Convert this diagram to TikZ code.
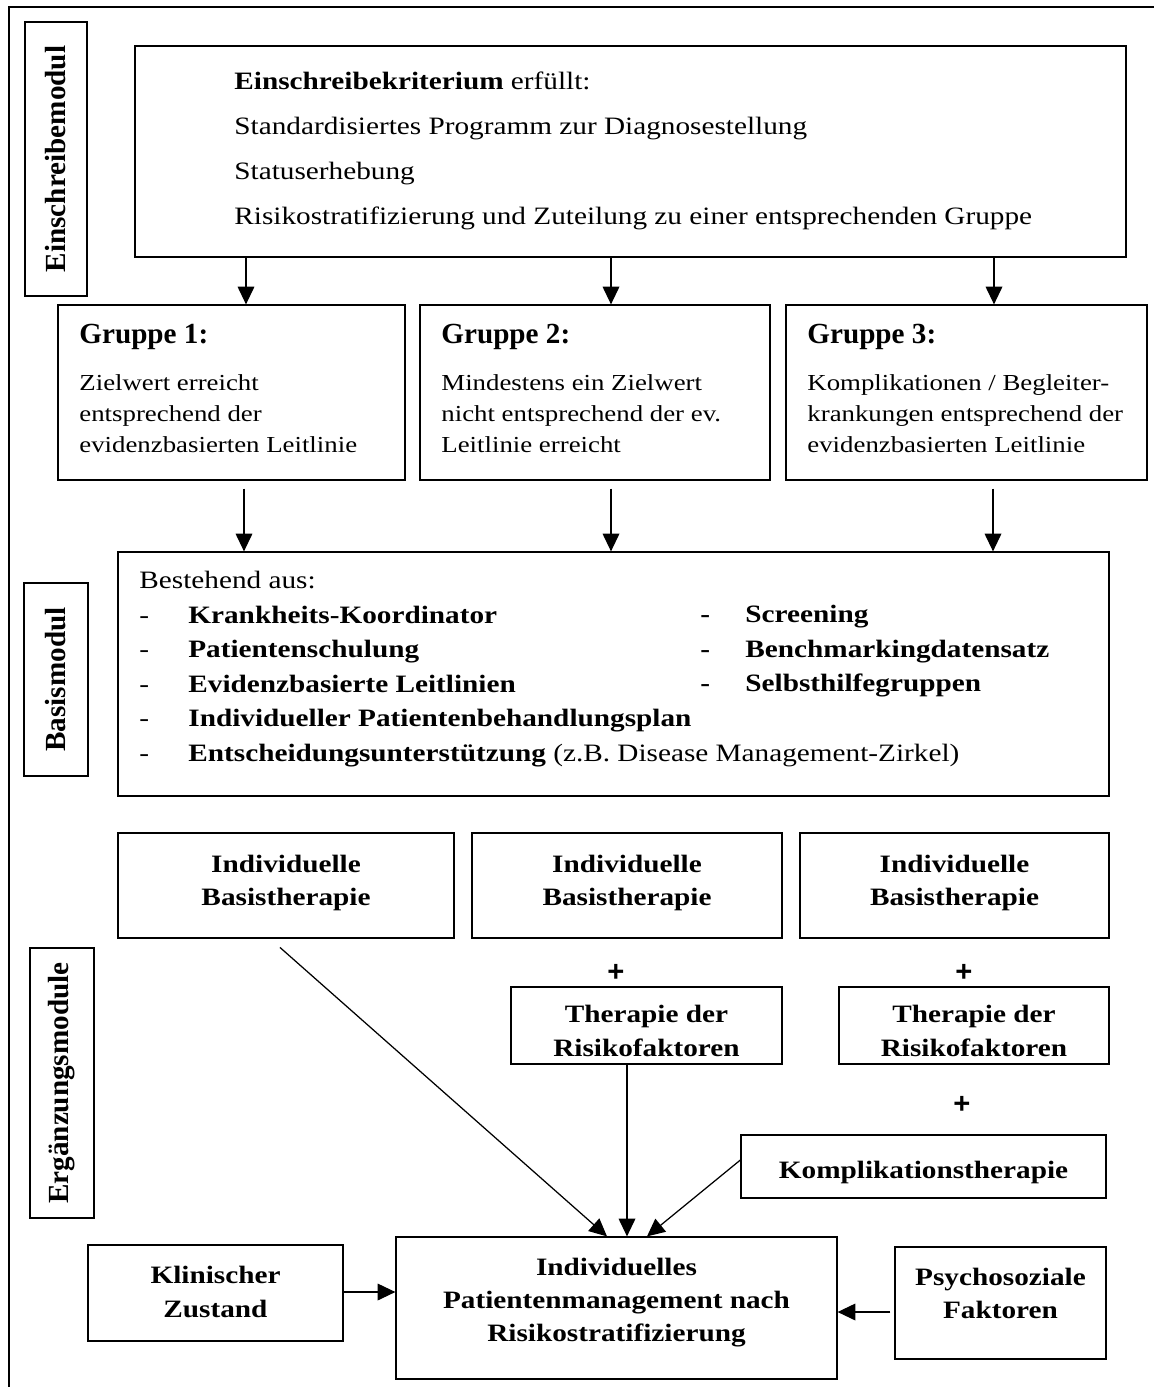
\documentclass[tikz,border=0pt]{standalone}
\usepackage{fontspec}
\setmainfont{Liberation Serif}[FakeStretch=1.17]
\newfontfamily\plainserif{Liberation Serif}
\newfontfamily\plusfont{Liberation Sans}
\usetikzlibrary{fit,arrows.meta}
\tikzset{
  box/.style={draw, line width=0.6pt, inner sep=0pt},
  arr/.style={-{Triangle[width=8pt,length=8.5pt]}, line width=0.6pt},
  sidelab/.style={font=\plainserif\bfseries\fontsize{14}{16}\selectfont, rotate=90, inner sep=0pt},
  bodytxt/.style={align=left, anchor=north west, inner sep=0pt},
  ctext/.style={align=center, anchor=north, inner sep=0pt, font=\bfseries\fontsize{12}{15.84}\selectfont},
  plussign/.style={font=\plusfont\bfseries\fontsize{14}{16}\selectfont, inner sep=0pt},
  ghead/.style={font=\plainserif\bfseries\fontsize{14}{16}\selectfont, anchor=base west, inner sep=0pt},
}
\begin{document}
\begin{tikzpicture}[x=0.48pt, y=-0.48pt]
\useasboundingbox (0,0) rectangle (1154,1387);
% outer frame (left and top sides visible)
\draw[line width=1.1pt] (9,1387) -- (9,7) -- (1154,7);

% side labels
\node[box, fit={(25,22) (87,296)}] (l1) {};
\node[sidelab] (l1t) at (l1.center) {Einschreibemodul};
\node[box, fit={(24,583) (88,776)}] (l2) {};
\node[sidelab] (l2t) at (l2.center) {Basismodul};
\node[box, fit={(30,948) (94,1218)}] (l3) {};
\node[sidelab] (l3t) at (l3.center) {Ergänzungsmodule};

% top box
\node[box, fit={(135,46) (1126,257)}] (top) {};
\node[bodytxt, font=\fontsize{12}{21.6}\selectfont] (topt) at (234,71)
  {\textbf{Einschreibekriterium} erfüllt:\\Standardisiertes Programm zur Diagnosestellung\\Statuserhebung\\Risikostratifizierung und Zuteilung zu einer entsprechenden Gruppe};

% groups
\node[box, fit={(58,305) (405,480)}] (g1) {};
\node[ghead] (g1h) at (79,343) {Gruppe 1:};
\node[bodytxt, font=\fontsize{11}{14.9}\selectfont] (g1t) at (79,374)
  {Zielwert erreicht\\entsprechend der\\evidenzbasierten Leitlinie};
\node[box, fit={(420,305) (770,480)}] (g2) {};
\node[ghead] (g2h) at (441,343) {Gruppe 2:};
\node[bodytxt, font=\fontsize{11}{14.9}\selectfont] (g2t) at (441,374)
  {Mindestens ein Zielwert\\nicht entsprechend der ev.\\Leitlinie erreicht};
\node[box, fit={(786,305) (1147,480)}] (g3) {};
\node[ghead] (g3h) at (807,343) {Gruppe 3:};
\node[bodytxt, font=\fontsize{11}{14.9}\selectfont] (g3t) at (807,374)
  {Komplikationen / Begleiter-\\krankungen entsprechend der\\evidenzbasierten Leitlinie};

% Basismodul
\node[box, fit={(118,552) (1109,796)}] (basis) {};
\node[bodytxt, font=\fontsize{12}{16.56}\selectfont] (bl) at (139,571)
  {Bestehend aus:\\
   \makebox[23.5pt][l]{-}\textbf{Krankheits-Koordinator}\\
   \makebox[23.5pt][l]{-}\textbf{Patientenschulung}\\
   \makebox[23.5pt][l]{-}\textbf{Evidenzbasierte Leitlinien}\\
   \makebox[23.5pt][l]{-}\textbf{Individueller Patientenbehandlungsplan}\\
   \makebox[23.5pt][l]{-}\textbf{Entscheidungsunterstützung} (z.B. Disease Management-Zirkel)};
\node[bodytxt, font=\bfseries\fontsize{12}{16.56}\selectfont] (br) at (700,605)
  {\makebox[21.6pt][l]{-}Screening\\
   \makebox[21.6pt][l]{-}Benchmarkingdatensatz\\
   \makebox[21.6pt][l]{-}Selbsthilfegruppen};

% Ergaenzungsmodule
\node[box, fit={(118,833) (454,938)}] (ib1) {};
\node[ctext] (ib1t) at (286,855) {Individuelle\\Basistherapie};
\node[box, fit={(472,833) (782,938)}] (ib2) {};
\node[ctext] (ib2t) at (627,855) {Individuelle\\Basistherapie};
\node[box, fit={(800,833) (1109,938)}] (ib3) {};
\node[ctext] (ib3t) at (954.5,855) {Individuelle\\Basistherapie};

\node[plussign] (p1) at (616,973) {+};
\node[plussign] (p2) at (964,973) {+};

\node[box, fit={(511,987) (782,1064)}] (tr2) {};
\node[ctext, font=\bfseries\fontsize{12}{16.3}\selectfont] (tr2t) at (646.5,1005) {Therapie der\\Risikofaktoren};
\node[box, fit={(839,987) (1109,1064)}] (tr3) {};
\node[ctext, font=\bfseries\fontsize{12}{16.3}\selectfont] (tr3t) at (974,1005) {Therapie der\\Risikofaktoren};

\node[plussign] (p3) at (962,1105) {+};

\node[box, fit={(741,1135) (1106,1198)}] (komp) {};
\node[anchor=base, inner sep=0pt, font=\bfseries\fontsize{12}{15.84}\selectfont] (kompt) at (923.5,1178) {Komplikationstherapie};

\node[box, fit={(396,1237) (837,1379)}] (target) {};
\node[ctext] (targett) at (616.5,1258) {Individuelles\\Patientenmanagement nach\\Risikostratifizierung};

\node[box, fit={(88,1245) (343,1341)}] (klin) {};
\node[ctext, font=\bfseries\fontsize{12}{16.3}\selectfont] (klint) at (215.5,1266) {Klinischer\\Zustand};

\node[box, fit={(895,1247) (1106,1359)}] (psy) {};
\node[ctext] (psyt) at (1000.5,1268) {Psychosoziale\\Faktoren};

% arrow positions
\coordinate (x1) at (246,0);
\coordinate (x2) at (611,0);
\coordinate (x3) at (994,0);
\coordinate (y1) at (244,0);
\coordinate (y2) at (611,0);
\coordinate (y3) at (993,0);
\coordinate (d1) at (270,0);
\coordinate (d2) at (607,0);
\coordinate (d3) at (627,0);
\coordinate (d4) at (647,0);
\coordinate (k1) at (0,1160);
\coordinate (k2) at (0,1292);
\coordinate (k3) at (0,1312);

\draw[arr] (top.south -| x1) -- (g1.north -| x1);
\draw[arr] (top.south -| x2) -- (g2.north -| x2);
\draw[arr] (top.south -| x3) -- (g3.north -| x3);

\draw[arr, shorten <=3.8pt] (g1.south -| y1) -- (basis.north -| y1);
\draw[arr, shorten <=3.8pt] (g2.south -| y2) -- (basis.north -| y2);
\draw[arr, shorten <=3.8pt] (g3.south -| y3) -- (basis.north -| y3);

\draw[arr, shorten <=6.4pt] (ib1.south -| d1) -- (target.north -| d2);
\draw[arr] (tr2.south -| d3) -- (target.north -| d3);
\draw[arr] (komp.west |- k1) -- (target.north -| d4);
\draw[arr] (klin.east |- k2) -- (target.west |- k2);
\draw[arr, shorten <=1.9pt] (psy.west |- k3) -- (target.east |- k3);
\end{tikzpicture}
\end{document}
